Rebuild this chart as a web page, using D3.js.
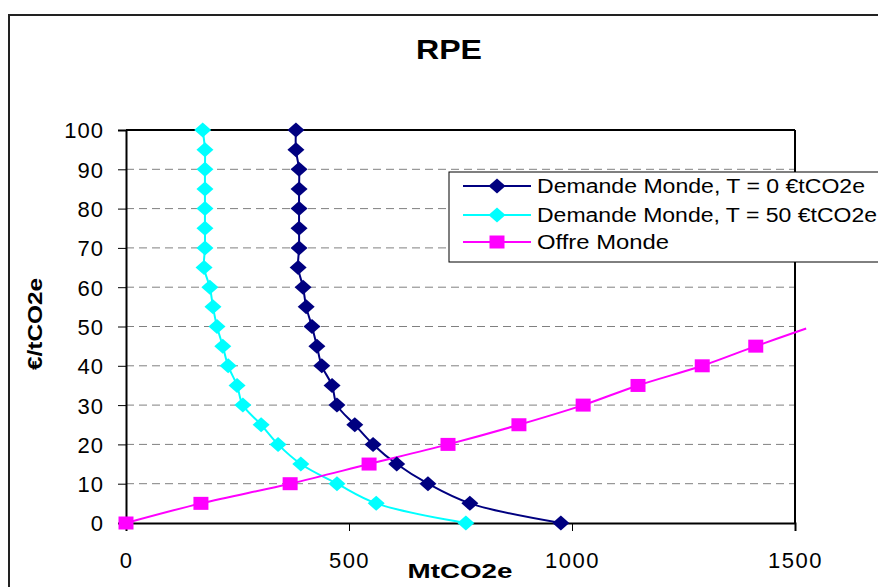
<!DOCTYPE html>
<html>
<head>
<meta charset="utf-8">
<script src="https://cdn.jsdelivr.net/npm/d3@7"></script>
<style>
  html, body { margin: 0; padding: 0; background: #fff; }
  svg { display: block; font-family: Arial, "Liberation Sans", sans-serif; }
</style>
</head>
<body>
<svg id="chart" width="878" height="587"></svg>
<script>
// ---- Data ----
const demandPrices = [0, 5, 10, 15, 20, 25, 30, 35, 40, 45, 50, 55, 60, 65, 70, 75, 80, 85, 90, 95, 100];
const demandT0 = [975, 771, 677, 607, 554, 513, 473, 462, 439, 428, 417, 404, 397, 386, 388, 388, 388, 388, 388, 381, 381];
const demandT50 = [762, 561, 473, 392, 341, 303, 262, 249, 229, 217, 204, 195, 188, 175, 177, 177, 177, 177, 177, 177, 172];
const offreQuantities = [0, 168, 368, 545, 722, 881, 1025, 1148, 1292, 1412, 1525];
const offrePrices = [0, 5, 10, 15, 20, 25, 30, 35, 40, 45, 49.5];
const xTicks = [0, 500, 1000, 1500];
const yTicks = [0, 10, 20, 30, 40, 50, 60, 70, 80, 90, 100];
const seriesNames = ["Demande Monde, T = 0 €tCO2e", "Demande Monde, T = 50 €tCO2e", "Offre Monde"];
const seriesColors = ["#000080", "#00FFFF", "#FF00FF"];
const chartTitle = "RPE";
const xTitle = "MtCO2e";
const yTitle = "€/tCO2e";

// ---- Build series ----
const series = [
  { name: seriesNames[0], color: seriesColors[0], marker: "diamond",
    pts: demandPrices.map((p, i) => ({ x: demandT0[i], y: p })) },
  { name: seriesNames[1], color: seriesColors[1], marker: "diamond",
    pts: demandPrices.map((p, i) => ({ x: demandT50[i], y: p })) },
  { name: seriesNames[2], color: seriesColors[2], marker: "square",
    pts: offrePrices.map((p, i) => ({ x: offreQuantities[i], y: p })) }
];

const svg = d3.select("#chart");
const L = 126, R = 795, T = 130, B = 523;
const x = d3.scaleLinear().domain([0, 1500]).range([L, R]);
const y = d3.scaleLinear().domain([0, 100]).range([B, T]);

// Outer chart border
svg.append("rect").attr("x", 9).attr("y", 15).attr("width", 900).attr("height", 600)
  .attr("fill", "#fff").attr("stroke", "#222").attr("stroke-width", 2);

// Title
svg.append("text").attr("x", 449).attr("y", 59).attr("text-anchor", "middle")
  .attr("font-size", 28).attr("font-weight", "bold")
  .attr("textLength", 66).attr("lengthAdjust", "spacingAndGlyphs").text(chartTitle);

// Gridlines
svg.append("g").selectAll("line").data(yTicks.filter(d => d > 0 && d < 100)).join("line")
  .attr("x1", L).attr("x2", R).attr("y1", d => y(d)).attr("y2", d => y(d))
  .attr("stroke", "#808080").attr("stroke-width", 1).attr("stroke-dasharray", "8,5");

// Plot frame (top/right)
svg.append("line").attr("x1", L).attr("x2", R).attr("y1", T).attr("y2", T).attr("stroke", "#000").attr("stroke-width", 2);
svg.append("line").attr("x1", R).attr("x2", R).attr("y1", T).attr("y2", B).attr("stroke", "#000").attr("stroke-width", 2);

// Axes
const xAxis = d3.axisBottom(x).tickValues(xTicks).tickSize(8).tickFormat(d3.format("d"));
const gx = svg.append("g").attr("transform", `translate(0,${B})`).call(xAxis);
gx.select(".domain").attr("stroke", "#000").attr("stroke-width", 2);
gx.selectAll(".tick line").attr("stroke", "#000").attr("stroke-width", 1);
gx.selectAll(".tick text").attr("font-size", 22).attr("font-family", "Arial, 'Liberation Sans', sans-serif")
  .attr("fill", "#000").attr("y", 0).attr("dy", 0).attr("transform", "translate(0,45)")
  .attr("letter-spacing", 1.5);

const yAxis = d3.axisLeft(y).tickValues(yTicks).tickSize(8).tickFormat(d3.format("d"));
const gy = svg.append("g").attr("transform", `translate(${L},0)`).call(yAxis);
gy.select(".domain").attr("stroke", "#000").attr("stroke-width", 2);
gy.selectAll(".tick line").attr("stroke", "#000").attr("stroke-width", 1);
gy.selectAll(".tick text").attr("font-size", 22).attr("font-family", "Arial, 'Liberation Sans', sans-serif")
  .attr("fill", "#000").attr("x", -22).attr("dy", "0.36em").attr("letter-spacing", 1);

// Axis titles
svg.append("text").attr("x", 460).attr("y", 578).attr("text-anchor", "middle")
  .attr("font-size", 21).attr("font-weight", "bold")
  .attr("textLength", 105).attr("lengthAdjust", "spacingAndGlyphs").text(xTitle);
svg.append("text").attr("transform", "translate(42,324) rotate(-90)").attr("text-anchor", "middle")
  .attr("font-size", 21).attr("font-weight", "bold")
  .attr("textLength", 92).attr("lengthAdjust", "spacingAndGlyphs").text(yTitle);

// Lines
const line = d3.line().x(d => x(d.x)).y(d => y(d.y)).curve(d3.curveCatmullRom.alpha(0.5));
function markerPath(type) {
  if (type === "diamond") return "M0,-7.5 L8.5,0 L0,7.5 L-8.5,0 Z";
  return "M-7.5,-6.5 L7.5,-6.5 L7.5,6.5 L-7.5,6.5 Z";
}
series.forEach(s => {
  svg.append("path").datum(s.pts).attr("d", line)
    .attr("fill", "none").attr("stroke", s.color).attr("stroke-width", 2);
});
series.forEach(s => {
  svg.append("g").selectAll("path").data(s.pts.filter(d => d.x <= 1500)).join("path")
    .attr("transform", d => `translate(${x(d.x)},${y(d.y)})`)
    .attr("d", markerPath(s.marker)).attr("fill", s.color);
});

// Legend
const lg = svg.append("g");
lg.append("rect").attr("x", 449).attr("y", 172).attr("width", 460).attr("height", 90)
  .attr("fill", "#fff").attr("stroke", "#000").attr("stroke-width", 1);
const rowY = [186, 215, 242];
const textLens = [328, 340, 132];
series.forEach((s, i) => {
  lg.append("line").attr("x1", 463).attr("x2", 531).attr("y1", rowY[i]).attr("y2", rowY[i])
    .attr("stroke", s.color).attr("stroke-width", 2);
  lg.append("path").attr("transform", `translate(497,${rowY[i]})`).attr("d", markerPath(s.marker)).attr("fill", s.color);
  lg.append("text").attr("x", 537).attr("y", rowY[i]).attr("dy", "0.36em")
    .attr("font-size", 19.5).attr("textLength", textLens[i]).attr("lengthAdjust", "spacingAndGlyphs").text(s.name);
});
</script>
</body>
</html>
